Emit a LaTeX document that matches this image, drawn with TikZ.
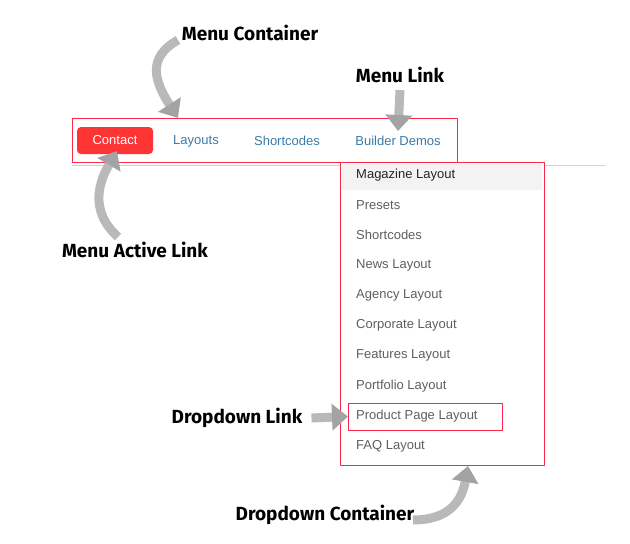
\documentclass[tikz,border=0pt]{standalone}
\usepackage{fontspec}
\setmainfont{Liberation Sans}
\newfontfamily\handfont{Fira Sans}
\usetikzlibrary{arrows.meta,positioning}
\definecolor{boxred}{RGB}{250,40,75}
\definecolor{activered}{RGB}{255,52,52}
\definecolor{linkblue}{RGB}{58,122,165}
\definecolor{itemgray}{RGB}{95,95,95}
\definecolor{rowgray}{RGB}{243,243,243}

\begin{document}
\begin{tikzpicture}[x=1pt,y=-1pt,
    line cap=round,line join=round,
    menulink/.style={font=\fontsize{13}{15}\selectfont,text=linkblue,inner sep=0pt},
    dropitem/.style={font=\fontsize{13}{15}\selectfont,text=itemgray,anchor=west,inner sep=0pt},
    note/.style={font=\handfont\bfseries\fontsize{19}{22}\selectfont,inner sep=0pt},
    pointer/.style={draw=gray!55,line width=9pt,line cap=butt,
      -{Triangle[length=16pt,width=26pt,fill=gray!72,color=gray!72]}},
    frame/.style={draw=boxred,line width=1pt,inner sep=0pt,anchor=north west}]
  \useasboundingbox (0,0) rectangle (630,544);

  % menu bar
  \draw[gray!35,line width=1pt] (72,165) -- (605,165);
  \node[frame,minimum width=385pt,minimum height=44pt] (menubox) at (72,118) {};
  \node[fill=activered,rounded corners=4pt,minimum width=76pt,minimum height=27pt,
        inner sep=0pt,text=white,font=\fontsize{13}{15}\selectfont] (contact) at (115,140.5) {Contact};
  \node[menulink] (layouts) at (196,141) {Layouts};
  \node[menulink] (shortcodes) at (287,141) {Shortcodes};
  \node[menulink] (builder) at (398,141) {Builder Demos};

  % dropdown
  \node[frame,fill=white,minimum width=204pt,minimum height=303pt] (dropbox) at (340,162) {};
  \fill[rowgray] (342,164) rectangle (542,190);
  \foreach \t [count=\i] in {Magazine Layout,Presets,Shortcodes,News Layout,Agency Layout,
      Corporate Layout,Features Layout,Portfolio Layout,Product Page Layout,FAQ Layout}
    \node[dropitem] (item\i) at (356,{175+30.1*(\i-1)}) {\t};
  \node[dropitem,text=black!85,fill=rowgray] at (item1.west) {Magazine Layout};
  \node[frame,draw=none,minimum width=153pt,minimum height=26pt] (prodbox) at (348,403) {};
  \draw[boxred,line width=1pt] (prodbox.north west) rectangle (prodbox.south east);

  % labels
  \node[note] (menucont) at (250,33) {Menu Container};
  \node[note] (menulnk) at (400,75) {Menu Link};
  \node[note] (activelnk) at (135,250) {Menu Active Link};
  \node[note] (droplnk) at (237,418) {Dropdown Link};
  \node[note] (dropcont) at (325,515) {Dropdown Container};

  % pointers
  \coordinate (mctail) at (178,40);
  \coordinate (altail) at (118,237);
  \coordinate (dctail) at (413,520);
  \draw[pointer] (mctail) .. controls (146,58) and (155,82) .. (menubox.north -| 178,0);
  \draw[pointer] (menulnk.south |- 0,90) -- (builder.north |- 0,131);
  \draw[pointer] (altail) .. controls (88,210) and (100,180) .. (117,151);
  \draw[pointer] (droplnk.east) ++(9,0) -- (prodbox.west);
  \draw[pointer] (dctail) .. controls (450,520) and (462,500) .. (dropbox.south -| 468,0);
\end{tikzpicture}
\end{document}
